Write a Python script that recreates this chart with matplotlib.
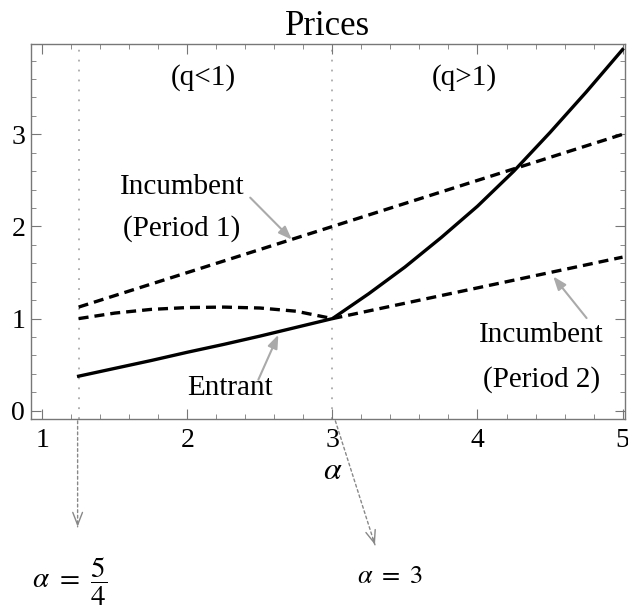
import matplotlib.pyplot as plt
from matplotlib.ticker import MultipleLocator

# values
alpha_low = [1.25, 1.5, 1.75, 2.0, 2.25, 2.5, 2.75, 3.0]
alpha_high = [3.0, 3.25, 3.5, 3.75, 4.0, 4.25, 4.5, 4.75, 5.0]

entrant_low = [0.375, 0.46, 0.545, 0.635, 0.72, 0.81, 0.905, 1.0]
entrant_high = [1.0, 1.27, 1.56, 1.88, 2.22, 2.60, 3.02, 3.46, 3.92]

incumbent1_alpha = [1.25, 5.0]
incumbent1 = [1.125, 3.0]

incumbent2_low = [1.0, 1.06, 1.10, 1.12, 1.125, 1.115, 1.08, 1.0]
incumbent2_high_alpha = [3.0, 5.0]
incumbent2_high = [1.0, 1.667]

boundaries = [1.25, 3.0]
x_ticks = [1, 2, 3, 4, 5]
y_ticks = [0, 1, 2, 3]

plt.rcParams['font.family'] = 'Liberation Serif'
plt.rcParams['mathtext.fontset'] = 'stix'

fig = plt.figure(figsize=(6.28, 6.14), dpi=100)
ax = fig.add_axes([0.049, 0.318, 0.946, 0.611])

frame_col = '#777777'
arrow_col = '#aaaaaa'

# region boundaries
for b in boundaries:
    ax.axvline(b, color=arrow_col, lw=1.3, ls=(0, (1, 4.5)), zorder=1)

dash = (0, (3, 1.8))
ax.plot(incumbent1_alpha, incumbent1, color='black', lw=2.4, ls=dash)
ax.plot(alpha_low, incumbent2_low, color='black', lw=2.4, ls=dash)
ax.plot(incumbent2_high_alpha, incumbent2_high, color='black', lw=2.4, ls=dash)
ax.plot(alpha_low + alpha_high[1:], entrant_low + entrant_high[1:], color='black', lw=2.4)

ax.set_xlim(0.92, 5.016)
ax.set_ylim(-0.087, 3.985)
ax.set_xticks(x_ticks)
ax.set_yticks(y_ticks)
ax.xaxis.set_minor_locator(MultipleLocator(0.2))
ax.yaxis.set_minor_locator(MultipleLocator(0.2))
ax.tick_params(which='both', direction='in', top=True, right=True, color=frame_col)
ax.tick_params(which='major', length=7, labelsize=20)
ax.tick_params(which='minor', length=3.5)
ax.tick_params(axis='x', pad=7)
ax.tick_params(axis='y', pad=4)
for s in ax.spines.values():
    s.set_color(frame_col)
    s.set_linewidth(1.0)

ax.set_title('Prices', fontsize=25, pad=6)
ax.text(3.0, -0.66, r'$\alpha$', fontsize=23, ha='center', va='center', clip_on=False)

# region labels
ax.text(2.107, 3.62, '(q<1)', fontsize=21, ha='center', va='center')
ax.text(3.91, 3.62, '(q>1)', fontsize=21, ha='center', va='center')

# curve labels
ax.text(1.963, 2.43, 'Incumbent', fontsize=21, ha='center', va='center')
ax.text(1.963, 1.98, '(Period 1)', fontsize=21, ha='center', va='center')
ax.text(2.295, 0.25, 'Entrant', fontsize=21, ha='center', va='center')
ax.text(4.44, 0.825, 'Incumbent', fontsize=21, ha='center', va='center')
ax.text(4.44, 0.337, '(Period 2)', fontsize=21, ha='center', va='center')

head = '-|>,head_length=0.8,head_width=0.3'
ax.annotate('', xy=(2.72, 1.857), xytext=(2.433, 2.313),
            arrowprops=dict(arrowstyle=head, color=arrow_col, lw=1.5, shrinkA=0, shrinkB=0))
ax.annotate('', xy=(2.627, 0.825), xytext=(2.489, 0.337),
            arrowprops=dict(arrowstyle=head, color=arrow_col, lw=1.5, shrinkA=0, shrinkB=0))
ax.annotate('', xy=(4.522, 1.458), xytext=(4.752, 1.006),
            arrowprops=dict(arrowstyle=head, color=arrow_col, lw=1.5, shrinkA=0, shrinkB=0))

# pointers below the axis: dotted shaft, solid open head
pointers = [((1.243, -0.11), (1.243, -1.26)), ((3.02, -0.11), (3.293, -1.455))]
for start, end in pointers:
    ax.annotate('', xy=end, xytext=start, annotation_clip=False,
                arrowprops=dict(arrowstyle='-', color='#888888', lw=1.0, ls=(0, (2, 2)),
                                shrinkA=0, shrinkB=0))
    near = (end[0] - (end[0] - start[0]) * 0.05, end[1] - (end[1] - start[1]) * 0.05)
    ax.annotate('', xy=end, xytext=near, annotation_clip=False,
                arrowprops=dict(arrowstyle='->,head_length=0.9,head_width=0.35',
                                color='#888888', lw=1.0, shrinkA=0, shrinkB=0))

ax.text(1.19, -1.86, r'$\alpha\ =\ \dfrac{5}{4}$', fontsize=21, ha='center', va='center', clip_on=False)
ax.text(3.395, -1.81, r'$\alpha\ =\ 3$', fontsize=19, ha='center', va='center', clip_on=False)

plt.savefig('out.png', dpi=100)
